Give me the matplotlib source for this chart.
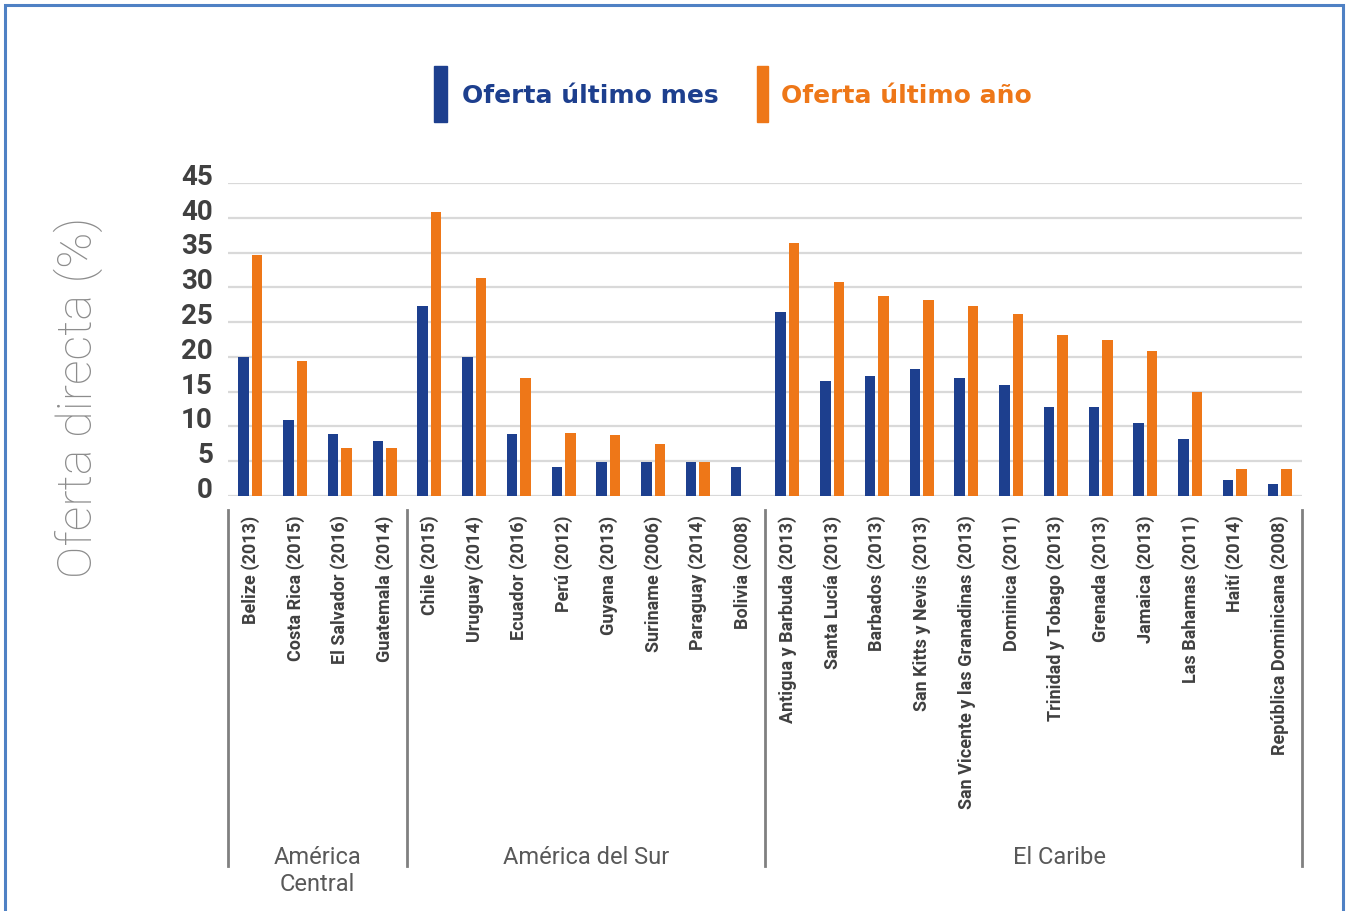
import matplotlib.pyplot as plt
import numpy as np
from matplotlib.patches import Rectangle
from matplotlib.transforms import blended_transform_factory

countries = [
    "Belize (2013)", "Costa Rica (2015)", "El Salvador (2016)", "Guatemala (2014)",
    "Chile (2015)", "Uruguay (2014)", "Ecuador (2016)", "Perú (2012)", "Guyana (2013)",
    "Suriname (2006)", "Paraguay (2014)", "Bolivia (2008)",
    "Antigua y Barbuda (2013)", "Santa Lucía (2013)", "Barbados (2013)",
    "San Kitts y Nevis (2013)", "San Vicente y las Granadinas (2013)", "Dominica (2011)",
    "Trinidad y Tobago (2013)", "Grenada (2013)", "Jamaica (2013)", "Las Bahamas (2011)",
    "Haití (2014)", "República Dominicana (2008)",
]
oferta_mes = [20.0, 10.9, 8.9, 7.9,
              27.3, 20.0, 8.9, 4.1, 4.9, 4.9, 4.9, 4.1,
              26.4, 16.5, 17.3, 18.2, 17.0, 15.9, 12.8, 12.8, 10.5, 8.2, 2.3, 1.7]
oferta_anio = [34.6, 19.4, 6.9, 6.9,
               40.8, 31.3, 17.0, 9.0, 8.7, 7.5, 4.9, 0.0,
               36.4, 30.8, 28.7, 28.2, 27.3, 26.2, 23.1, 22.4, 20.8, 15.0, 3.9, 3.9]
regions = ["América\nCentral", "América del Sur", "El Caribe"]
region_sizes = [4, 8, 12]
yticks = [0, 5, 10, 15, 20, 25, 30, 35, 40, 45]

blue = "#1d3f8e"
orange = "#ee7718"

W, H = 1347, 911
fig = plt.figure(figsize=(W / 100, H / 100), dpi=100)
ax = fig.add_axes([228 / W, 1 - 496 / H, (1302 - 228) / W, (496 - 183) / H])

x = np.arange(len(countries))
ax.bar(x - 0.15, oferta_mes, width=0.235, color=blue, zorder=3)
ax.bar(x + 0.15, oferta_anio, width=0.235, color=orange, zorder=3)

ax.set_xlim(-0.5, len(countries) - 0.5)
ax.set_ylim(0, 45)
ax.set_yticks(yticks)
ax.set_yticklabels([])
ax.tick_params(axis="y", length=0)
ax.grid(axis="y", color="#d9d9d9", linewidth=1.6, zorder=0)
for s in ax.spines.values():
    s.set_visible(False)

# y tick labels drawn by hand, slightly above the gridlines
ytrans = blended_transform_factory(ax.transAxes, ax.transData)
for v in yticks:
    ax.text(-15 / (1302 - 228), v + 0.8, str(v), transform=ytrans, ha="right", va="center",
            fontsize=20, fontweight="bold", color="#404040", family="Roboto")

ax.set_xticks(x)
ax.set_xticklabels(countries, rotation=90, fontsize=13, fontweight="bold",
                   color="#404040", family="Roboto")
ax.tick_params(axis="x", length=0, pad=14)

fig.text(78 / W, 1 - 397 / H, "Oferta directa (%)", rotation=90, ha="center", va="center",
         fontsize=35, color="#8c8c8c", family="Roboto", fontweight="light")

# region separators and labels
xtrans = blended_transform_factory(ax.transData, ax.transAxes)
ax_h = 496 - 183
bounds = np.concatenate([[0], np.cumsum(region_sizes)]) - 0.5
for b in bounds:
    ax.plot([b, b], [-(510 - 496) / ax_h, -(866 - 496) / ax_h], color="#808080",
            linewidth=2, transform=xtrans, clip_on=False)
label_x = [(bounds[0] + bounds[1]) / 2, (bounds[1] + bounds[2]) / 2, 18.07]
for lx, name in zip(label_x, regions):
    ax.text(lx, -(846 - 496) / ax_h, name, transform=xtrans, ha="center", va="top",
            fontsize=17, color="#595959", family="Roboto", linespacing=1.2)

# legend
fig.patches.append(Rectangle((434 / W, 1 - 122 / H), 13 / W, 56 / H, color=blue,
                             transform=fig.transFigure))
fig.text(462 / W, 1 - 96 / H, "Oferta último mes", color=blue, fontsize=18,
         fontweight="bold", family="DejaVu Sans", va="center")
fig.patches.append(Rectangle((757 / W, 1 - 122 / H), 11 / W, 56 / H, color=orange,
                             transform=fig.transFigure))
fig.text(781 / W, 1 - 96 / H, "Oferta último año", color=orange, fontsize=18,
         fontweight="bold", family="DejaVu Sans", va="center")

# frame around the figure
fig.patches.append(Rectangle((5 / W, -0.02), (1343 - 5) / W, 1.02 - 5 / H, fill=False,
                             edgecolor="#4f81c4", linewidth=2.2, transform=fig.transFigure))

fig.savefig("out.png", dpi=100)
